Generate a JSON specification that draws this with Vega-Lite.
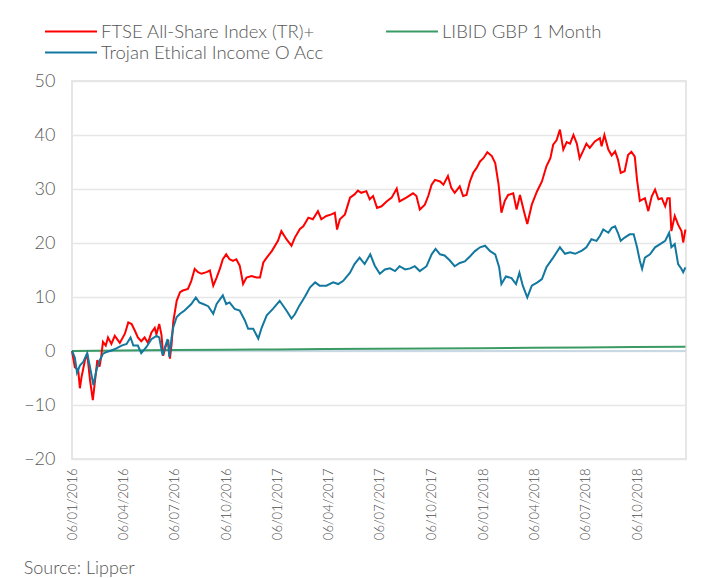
{
"$schema": "https://vega.github.io/schema/vega-lite/v6.json",
"width": 614, "height": 378,
"autosize": {"type": "none"},
"padding": {"left": 72, "top": 81, "right": 18, "bottom": 119},
"background": "white",
"config": {"font": "Lato", "view": {"stroke": "#dedede", "strokeWidth": 1.5}},
"title": {"text": "Source: Lipper", "orient": "bottom", "anchor": "start", "frame": "bounds", "offset": 20, "font": "Lato", "fontSize": 18, "fontWeight": 300, "color": "#555555"},
"datasets": {
"zero": [{"date": "2016-01-06", "value": 0}, {"date": "2019-01-01", "value": 0}],
"libid": [
{"date":"2016-01-06","value":0},{"date":"2016-04-01","value":0.1},{"date":"2016-07-01","value":0.2},{"date":"2016-10-01","value":0.25},{"date":"2017-01-01","value":0.3},{"date":"2017-04-01","value":0.35},{"date":"2017-07-01","value":0.4},{"date":"2017-10-01","value":0.45},{"date":"2018-01-01","value":0.52},{"date":"2018-04-01","value":0.58},{"date":"2018-07-01","value":0.65},{"date":"2018-10-01","value":0.72},{"date":"2018-12-31","value":0.78}],
"ftse": [
{"date":"2016-01-06","value":0},{"date":"2016-01-11","value":-3},{"date":"2016-01-17","value":-3.5},{"date":"2016-01-20","value":-6.9},{"date":"2016-01-23","value":-4.8},{"date":"2016-01-29","value":-1.7},{"date":"2016-02-02","value":-0.5},{"date":"2016-02-07","value":-5.4},{"date":"2016-02-12","value":-9.1},{"date":"2016-02-16","value":-5.4},{"date":"2016-02-20","value":-1.7},{"date":"2016-02-24","value":-2.9},{"date":"2016-02-27","value":-1},{"date":"2016-03-01","value":1.7},{"date":"2016-03-06","value":1},{"date":"2016-03-10","value":2.5},{"date":"2016-03-16","value":1.3},{"date":"2016-03-22","value":2.8},{"date":"2016-03-31","value":1.5},{"date":"2016-04-09","value":3.2},{"date":"2016-04-15","value":5.3},{"date":"2016-04-21","value":5},{"date":"2016-04-27","value":3.7},{"date":"2016-05-02","value":2.5},{"date":"2016-05-08","value":1.8},{"date":"2016-05-14","value":2.5},{"date":"2016-05-20","value":1.5},{"date":"2016-05-26","value":3.4},{"date":"2016-06-01","value":4.3},{"date":"2016-06-04","value":3.1},{"date":"2016-06-09","value":5},{"date":"2016-06-13","value":3},{"date":"2016-06-16","value":-0.9},{"date":"2016-06-20","value":0.7},{"date":"2016-06-25","value":2},{"date":"2016-06-28","value":-1.4},{"date":"2016-07-01","value":1.3},{"date":"2016-07-04","value":5.5},{"date":"2016-07-07","value":7.4},{"date":"2016-07-10","value":9.3},{"date":"2016-07-16","value":10.9},{"date":"2016-07-21","value":11.2},{"date":"2016-07-30","value":11.5},{"date":"2016-08-05","value":13},{"date":"2016-08-11","value":15.2},{"date":"2016-08-17","value":14.6},{"date":"2016-08-23","value":14.3},{"date":"2016-09-01","value":14.6},{"date":"2016-09-07","value":14.9},{"date":"2016-09-13","value":12.1},{"date":"2016-09-19","value":13.6},{"date":"2016-09-25","value":15.3},{"date":"2016-09-30","value":17},{"date":"2016-10-06","value":17.9},{"date":"2016-10-12","value":17},{"date":"2016-10-18","value":16.7},{"date":"2016-10-24","value":17},{"date":"2016-10-30","value":15.8},{"date":"2016-11-05","value":12.4},{"date":"2016-11-11","value":13.6},{"date":"2016-11-20","value":13.9},{"date":"2016-11-29","value":13.6},{"date":"2016-12-05","value":13.6},{"date":"2016-12-11","value":16.4},{"date":"2016-12-17","value":17.3},{"date":"2016-12-26","value":18.5},{"date":"2017-01-06","value":20.4},{"date":"2017-01-12","value":22.2},{"date":"2017-01-21","value":20.7},{"date":"2017-01-30","value":19.5},{"date":"2017-02-05","value":21},{"date":"2017-02-14","value":22.6},{"date":"2017-02-20","value":23.1},{"date":"2017-03-01","value":24.7},{"date":"2017-03-09","value":24.4},{"date":"2017-03-18","value":25.9},{"date":"2017-03-24","value":24.4},{"date":"2017-04-02","value":25},{"date":"2017-04-11","value":25.3},{"date":"2017-04-17","value":25.6},{"date":"2017-04-21","value":22.5},{"date":"2017-04-26","value":24.4},{"date":"2017-05-05","value":25.3},{"date":"2017-05-14","value":28.4},{"date":"2017-05-22","value":29},{"date":"2017-05-28","value":29.7},{"date":"2017-06-03","value":29.3},{"date":"2017-06-12","value":29.6},{"date":"2017-06-18","value":28.1},{"date":"2017-06-24","value":28.7},{"date":"2017-07-01","value":26.5},{"date":"2017-07-09","value":26.8},{"date":"2017-07-18","value":27.7},{"date":"2017-07-27","value":28.4},{"date":"2017-08-05","value":30.1},{"date":"2017-08-10","value":27.7},{"date":"2017-08-22","value":28.4},{"date":"2017-09-03","value":29.2},{"date":"2017-09-09","value":28.7},{"date":"2017-09-15","value":26.2},{"date":"2017-09-24","value":27.1},{"date":"2017-09-30","value":28.7},{"date":"2017-10-06","value":30.8},{"date":"2017-10-12","value":31.7},{"date":"2017-10-21","value":31.4},{"date":"2017-10-27","value":30.8},{"date":"2017-11-04","value":32.4},{"date":"2017-11-10","value":30.2},{"date":"2017-11-16","value":29.3},{"date":"2017-11-25","value":30.5},{"date":"2017-12-01","value":28.7},{"date":"2017-12-07","value":28.9},{"date":"2017-12-13","value":31.4},{"date":"2017-12-19","value":33},{"date":"2017-12-25","value":33.9},{"date":"2017-12-31","value":35.1},{"date":"2018-01-06","value":35.7},{"date":"2018-01-13","value":36.8},{"date":"2018-01-21","value":36.1},{"date":"2018-01-27","value":34.8},{"date":"2018-02-02","value":30.8},{"date":"2018-02-07","value":25.6},{"date":"2018-02-13","value":27.8},{"date":"2018-02-19","value":28.9},{"date":"2018-02-28","value":29.2},{"date":"2018-03-06","value":26.2},{"date":"2018-03-12","value":28.9},{"date":"2018-03-19","value":25.9},{"date":"2018-03-25","value":23.5},{"date":"2018-04-02","value":27.1},{"date":"2018-04-11","value":29.5},{"date":"2018-04-20","value":31.4},{"date":"2018-04-28","value":34.2},{"date":"2018-05-05","value":35.7},{"date":"2018-05-10","value":38.2},{"date":"2018-05-16","value":39},{"date":"2018-05-22","value":41},{"date":"2018-05-28","value":37.3},{"date":"2018-06-03","value":38.7},{"date":"2018-06-09","value":38.4},{"date":"2018-06-15","value":40},{"date":"2018-06-21","value":38.4},{"date":"2018-06-26","value":35.7},{"date":"2018-07-02","value":37},{"date":"2018-07-08","value":38.4},{"date":"2018-07-14","value":37.6},{"date":"2018-07-23","value":38.8},{"date":"2018-08-01","value":39.4},{"date":"2018-08-04","value":37.9},{"date":"2018-08-09","value":40},{"date":"2018-08-16","value":37.3},{"date":"2018-08-22","value":36.2},{"date":"2018-08-28","value":37},{"date":"2018-09-02","value":35.5},{"date":"2018-09-07","value":33},{"date":"2018-09-14","value":33.3},{"date":"2018-09-20","value":36.3},{"date":"2018-09-26","value":36.9},{"date":"2018-10-02","value":36},{"date":"2018-10-06","value":31.7},{"date":"2018-10-11","value":27.8},{"date":"2018-10-20","value":28.3},{"date":"2018-10-26","value":25.9},{"date":"2018-11-01","value":28.6},{"date":"2018-11-07","value":29.9},{"date":"2018-11-13","value":28.1},{"date":"2018-11-19","value":28.3},{"date":"2018-11-25","value":26.8},{"date":"2018-11-29","value":28.3},{"date":"2018-12-03","value":28.3},{"date":"2018-12-06","value":22.2},{"date":"2018-12-12","value":25},{"date":"2018-12-18","value":23.4},{"date":"2018-12-24","value":22.2},{"date":"2018-12-27","value":20.1},{"date":"2018-12-31","value":22.5}],
"trojan": [
{"date":"2016-01-06","value":0},{"date":"2016-01-11","value":-1.2},{"date":"2016-01-15","value":-4},{"date":"2016-01-20","value":-2.7},{"date":"2016-01-26","value":-2},{"date":"2016-02-02","value":-0.4},{"date":"2016-02-07","value":-3},{"date":"2016-02-13","value":-6.3},{"date":"2016-02-19","value":-3.3},{"date":"2016-02-24","value":-1.8},{"date":"2016-03-01","value":-0.5},{"date":"2016-03-07","value":-0.2},{"date":"2016-03-16","value":0.1},{"date":"2016-03-25","value":0.5},{"date":"2016-04-03","value":1},{"date":"2016-04-12","value":1.3},{"date":"2016-04-19","value":2.5},{"date":"2016-04-24","value":1},{"date":"2016-05-02","value":1},{"date":"2016-05-08","value":-0.4},{"date":"2016-05-17","value":0.7},{"date":"2016-05-26","value":2.2},{"date":"2016-06-04","value":2.8},{"date":"2016-06-09","value":2.5},{"date":"2016-06-15","value":-0.8},{"date":"2016-06-19","value":0.7},{"date":"2016-06-24","value":2.2},{"date":"2016-06-27","value":-1.1},{"date":"2016-07-01","value":2.5},{"date":"2016-07-04","value":4.4},{"date":"2016-07-10","value":6.3},{"date":"2016-07-16","value":6.9},{"date":"2016-07-24","value":7.5},{"date":"2016-07-30","value":8.1},{"date":"2016-08-05","value":8.7},{"date":"2016-08-13","value":9.9},{"date":"2016-08-19","value":9},{"date":"2016-08-26","value":8.7},{"date":"2016-09-04","value":8.3},{"date":"2016-09-13","value":6.9},{"date":"2016-09-19","value":8.7},{"date":"2016-09-30","value":10.3},{"date":"2016-10-06","value":8.7},{"date":"2016-10-12","value":9},{"date":"2016-10-21","value":7.8},{"date":"2016-10-30","value":7.5},{"date":"2016-11-08","value":5.7},{"date":"2016-11-14","value":4.1},{"date":"2016-11-23","value":4.1},{"date":"2016-12-02","value":2.3},{"date":"2016-12-08","value":4.3},{"date":"2016-12-17","value":6.6},{"date":"2016-12-28","value":7.8},{"date":"2017-01-09","value":9.3},{"date":"2017-01-21","value":7.5},{"date":"2017-01-30","value":6},{"date":"2017-02-05","value":6.8},{"date":"2017-02-13","value":8.4},{"date":"2017-02-23","value":10.1},{"date":"2017-03-04","value":11.8},{"date":"2017-03-13","value":12.7},{"date":"2017-03-21","value":12.1},{"date":"2017-04-02","value":12.1},{"date":"2017-04-14","value":12.7},{"date":"2017-04-23","value":12.4},{"date":"2017-05-02","value":13},{"date":"2017-05-14","value":14.5},{"date":"2017-05-22","value":16.1},{"date":"2017-05-31","value":17.3},{"date":"2017-06-09","value":16.1},{"date":"2017-06-19","value":17.9},{"date":"2017-06-27","value":15.8},{"date":"2017-07-06","value":14.3},{"date":"2017-07-15","value":15.1},{"date":"2017-07-24","value":15.3},{"date":"2017-08-02","value":14.8},{"date":"2017-08-10","value":15.7},{"date":"2017-08-20","value":15.1},{"date":"2017-08-29","value":15.3},{"date":"2017-09-06","value":15.7},{"date":"2017-09-15","value":14.8},{"date":"2017-09-27","value":15.7},{"date":"2017-10-06","value":17.9},{"date":"2017-10-13","value":18.9},{"date":"2017-10-21","value":17.9},{"date":"2017-10-29","value":17.7},{"date":"2017-11-07","value":16.8},{"date":"2017-11-16","value":15.7},{"date":"2017-11-25","value":16.3},{"date":"2017-12-04","value":16.6},{"date":"2017-12-13","value":17.5},{"date":"2017-12-22","value":18.5},{"date":"2017-12-31","value":19.2},{"date":"2018-01-09","value":19.5},{"date":"2018-01-18","value":18.5},{"date":"2018-01-27","value":17.9},{"date":"2018-02-03","value":15.5},{"date":"2018-02-07","value":12.4},{"date":"2018-02-15","value":13.8},{"date":"2018-02-25","value":13.5},{"date":"2018-03-05","value":12.4},{"date":"2018-03-11","value":14.5},{"date":"2018-03-17","value":12.1},{"date":"2018-03-25","value":9.9},{"date":"2018-04-02","value":12.1},{"date":"2018-04-12","value":12.7},{"date":"2018-04-20","value":13.3},{"date":"2018-04-28","value":15.5},{"date":"2018-05-10","value":17.3},{"date":"2018-05-22","value":19.2},{"date":"2018-05-31","value":18},{"date":"2018-06-09","value":18.3},{"date":"2018-06-18","value":18},{"date":"2018-06-30","value":18.6},{"date":"2018-07-08","value":19.2},{"date":"2018-07-17","value":20.7},{"date":"2018-07-26","value":20.4},{"date":"2018-08-01","value":21.3},{"date":"2018-08-07","value":22.5},{"date":"2018-08-16","value":21.9},{"date":"2018-08-22","value":22.8},{"date":"2018-08-28","value":23.1},{"date":"2018-09-02","value":21.9},{"date":"2018-09-07","value":20.4},{"date":"2018-09-14","value":21},{"date":"2018-09-23","value":21.6},{"date":"2018-09-30","value":21.6},{"date":"2018-10-06","value":19.2},{"date":"2018-10-11","value":16.7},{"date":"2018-10-15","value":15.2},{"date":"2018-10-20","value":17.3},{"date":"2018-10-29","value":17.9},{"date":"2018-11-07","value":19.2},{"date":"2018-11-16","value":19.8},{"date":"2018-11-25","value":20.4},{"date":"2018-12-02","value":21.9},{"date":"2018-12-06","value":19.2},{"date":"2018-12-12","value":19.8},{"date":"2018-12-18","value":16.1},{"date":"2018-12-24","value":15.2},{"date":"2018-12-27","value":14.6},{"date":"2018-12-31","value":15.5}]
},
"encoding": {
"x": {"field": "date", "type": "temporal",
 "scale": {"type": "utc", "domain": [{"year": 2016, "month": 1, "date": 6, "utc": true}, {"year": 2019, "month": 1, "date": 1, "utc": true}]},
 "axis": {"title": null, "format": "%d/%m/%Y", "labelAngle": -90, "labelFontSize": 13, "labelFontWeight": 300, "labelColor": "#4f4f4f", "labelPadding": 9, "ticks": false, "domain": false, "grid": false, "labelFont": "Lato",
  "values": [
   {"year": 2016, "month": 1, "date": 6, "utc": true}, {"year": 2016, "month": 4, "date": 6, "utc": true}, {"year": 2016, "month": 7, "date": 6, "utc": true}, {"year": 2016, "month": 10, "date": 6, "utc": true},
   {"year": 2017, "month": 1, "date": 6, "utc": true}, {"year": 2017, "month": 4, "date": 6, "utc": true}, {"year": 2017, "month": 7, "date": 6, "utc": true}, {"year": 2017, "month": 10, "date": 6, "utc": true},
   {"year": 2018, "month": 1, "date": 6, "utc": true}, {"year": 2018, "month": 4, "date": 6, "utc": true}, {"year": 2018, "month": 7, "date": 6, "utc": true}, {"year": 2018, "month": 10, "date": 6, "utc": true}]}},
"y": {"field": "value", "type": "quantitative",
 "scale": {"domain": [-20, 50], "nice": false},
 "axis": {"title": null, "values": [-20, -10, 0, 10, 20, 30, 40, 50], "labelFontSize": 18, "labelFontWeight": 300, "labelColor": "#595959", "labelPadding": 17, "ticks": false, "domain": false, "grid": true, "gridColor": "#e6e6e6", "gridWidth": 1.5, "labelFont": "Lato"}}
},
"layer": [
{"data": {"name": "zero"}, "mark": {"type": "line", "color": "#c8d8e4", "strokeWidth": 2}},
{"data": {"name": "libid"}, "mark": {"type": "line", "strokeWidth": 2},
 "encoding": {"color": {"datum": "LIBID GBP 1 Month", "type": "nominal",
  "scale": {"domain": ["FTSE All-Share Index (TR)+", "LIBID GBP 1 Month", "Trojan Ethical Income O Acc"], "range": ["#ff0000", "#3a9a64", "#13789f"]},
  "legend": {"title": null, "orient": "none", "direction": "horizontal", "legendX": -28, "legendY": -60, "columns": 2, "columnPadding": 61, "rowPadding": 0, "clipHeight": 21, "symbolType": "stroke", "symbolSize": 2704, "symbolStrokeWidth": 2, "labelFontSize": 18.5, "labelFontWeight": 300, "labelColor": "#555555", "labelLimit": 400, "labelOffset": 3, "padding": 0, "labelFont": "Lato"}}}},
{"data": {"name": "ftse"}, "mark": {"type": "line", "strokeWidth": 2}, "encoding": {"color": {"datum": "FTSE All-Share Index (TR)+", "type": "nominal"}}},
{"data": {"name": "trojan"}, "mark": {"type": "line", "strokeWidth": 2}, "encoding": {"color": {"datum": "Trojan Ethical Income O Acc", "type": "nominal"}}}
]
}
